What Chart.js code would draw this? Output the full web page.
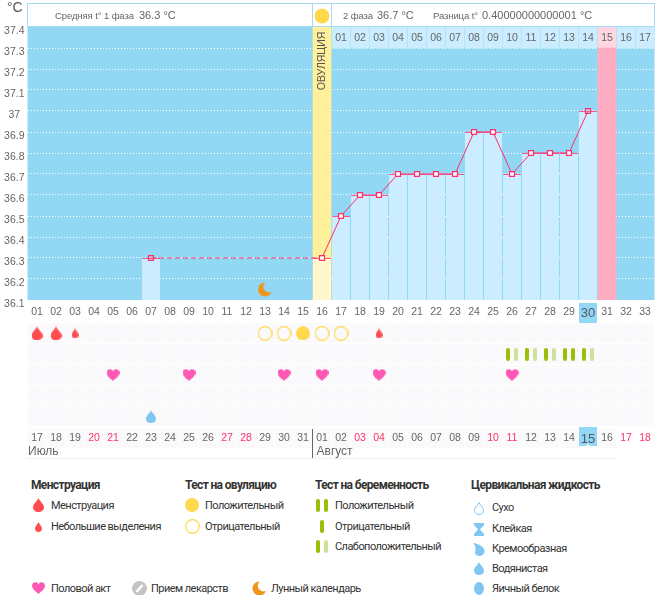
<!DOCTYPE html>
<html lang="ru"><head><meta charset="utf-8">
<style>
html,body{margin:0;padding:0;background:#fff;width:663px;height:595px;overflow:hidden}
body{position:relative;font-family:"Liberation Sans",sans-serif;color:#333}
canvas{position:absolute;left:0;display:block}
.t{position:absolute;white-space:nowrap;line-height:16px;transform:translateY(-8px)}
.h{font-size:9.5px;color:#666;letter-spacing:-.1px}.v{font-size:11px;color:#666}
.lh{font-family:Roboto,sans-serif;font-size:12px;font-weight:700;color:#333;letter-spacing:-.65px}
.li{font-family:Roboto,sans-serif;font-size:11px;color:#333;letter-spacing:-.55px;transform:translateY(-7px)}
</style></head><body>
<canvas id="top" width="663" height="323" style="top:0;width:663px;height:323px"></canvas>
<canvas id="low" width="663" height="140" style="top:323px;width:663px;height:140px"></canvas>
<div class="t" style="left:7px;top:7px;font-size:14px;color:#555">°C</div>
<div class="t h" style="left:55px;top:16px">Средняя t° 1 фаза</div><div class="t v" style="left:139px;top:15px">36.3 °C</div>
<div class="t h" style="left:343px;top:16px">2 фаза</div><div class="t v" style="left:377px;top:15px">36.7 °C</div>
<div class="t h" style="left:433px;top:16px">Разница t°</div><div class="t v" style="left:482px;top:15px">0.40000000000001 °C</div>

<div class="t lh" style="left:31px;top:485px">Менструация</div>
<div class="t li" style="left:51px;top:505px">Менструация</div>
<div class="t li" style="left:51px;top:526px">Небольшие выделения</div>
<div class="t lh" style="left:185px;top:485px">Тест на овуляцию</div>
<div class="t li" style="left:205px;top:505px">Положительный</div>
<div class="t li" style="left:205px;top:526px">Отрицательный</div>
<div class="t lh" style="left:315px;top:485px">Тест на беременность</div>
<div class="t li" style="left:335px;top:505px">Положительный</div>
<div class="t li" style="left:335px;top:526px">Отрицательный</div>
<div class="t li" style="left:335px;top:546px">Слабоположительный</div>
<div class="t lh" style="left:471px;top:485px">Цервикальная жидкость</div>
<div class="t li" style="left:492px;top:507px">Сухо</div>
<div class="t li" style="left:492px;top:528px">Клейкая</div>
<div class="t li" style="left:492px;top:548px">Кремообразная</div>
<div class="t li" style="left:492px;top:568px">Водянистая</div>
<div class="t li" style="left:492px;top:588px">Яичный белок</div>
<div class="t li" style="left:51px;top:588px">Половой акт</div>
<div class="t li" style="left:151px;top:588px">Прием лекарств</div>
<div class="t li" style="left:271px;top:588px">Лунный календарь</div>

<script src="https://cdn.jsdelivr.net/npm/chart.js@4"></script>
<script>
// ---------- data ----------
const cycleDays = ['01','02','03','04','05','06','07','08','09','10','11','12','13','14','15','16','17','18','19','20','21','22','23','24','25','26','27','28','29','30','31','32','33'];
const calendarDays = ['17','18','19','20','21','22','23','24','25','26','27','28','29','30','31','01','02','03','04','05','06','07','08','09','10','11','12','13','14','15','16','17','18'];
const weekendDays = [4,5,11,12,18,19,25,26,32,33];
const tempDays   = [7,16,17,18,19,20,21,22,23,24,25,26,27,28,29,30];
const tempValues = [36.3,36.3,36.5,36.6,36.6,36.7,36.7,36.7,36.7,36.9,36.9,36.7,36.8,36.8,36.8,37.0];
const hollowDays = [7,30];
const ovulationDay = 16;
const periodEndDay = 31;
const todayDay = 30;
const phaseLabels = ['01','02','03','04','05','06','07','08','09','10','11','12','13','14','15','16','17'];
const phaseStartDay = 17;
const moonDays = [13];
const moonValue = 36.15;
const flowHeavyDays = [1,2];
const flowSpotDays = [3,19];
const ovPosDays = [15];
const ovNegDays = [13,14,16,17];
const pregWeakDays = [26,27,28,30];
const pregPosDays = [29];
const sexDays = [5,9,14,16,19,26];
const wateryDays = [7];
const yMin = 36.1, yMax = 37.4, yStep = 0.1;

// ---------- colours ----------
const SKY='#92d8f5', CELL='#cbedff', PINK='#ffadc3', PINKL='#ffd6e2', YEL='#fff09b', YELL='#fff8cc',
      RED='#ff2d6b', DROP='#ff4d4f', GOLD='#ffd84d', GREEN='#99bf06', GREENL='#cfe09a', HEART='#ff58b4',
      BLUE='#7fc6f3', MOON='#f0951a', GREY='#c4c4c4';

// ---------- icons ----------
function icon(w,h,fn){const c=document.createElement('canvas');c.width=w;c.height=h;const x=c.getContext('2d');fn(x,w,h);return c;}
function dropPath(x,w,h){
  x.beginPath();x.moveTo(w/2,0);
  x.bezierCurveTo(w*0.62,h*0.25,w,h*0.42,w,h*0.66);
  x.bezierCurveTo(w,h*0.88,w*0.78,h,w/2,h);
  x.bezierCurveTo(w*0.22,h,0,h*0.88,0,h*0.66);
  x.bezierCurveTo(0,h*0.42,w*0.38,h*0.25,w/2,0);x.closePath();
}
const drop=(w,h,col)=>icon(w,h,(x)=>{dropPath(x,w,h);x.fillStyle=col;x.fill();});
const circle=(d)=>icon(d,d,(x)=>{x.beginPath();x.arc(d/2,d/2,d/2,0,7);x.fillStyle=GOLD;x.fill();});
const ring=(d)=>icon(d+1,d+1,(x)=>{x.beginPath();x.arc(d/2+.5,d/2+.5,d/2-.2,0,7);x.strokeStyle=GOLD;x.lineWidth=1.2;x.stroke();});
const heart=(w,h)=>icon(w,h,(x)=>{x.fillStyle=HEART;x.beginPath();x.moveTo(w/2,h);
  x.bezierCurveTo(w*0.3,h*0.8,0,h*0.6,0,h*0.3);x.bezierCurveTo(0,0,w*0.4,-h*0.08,w/2,h*0.2);
  x.bezierCurveTo(w*0.6,-h*0.08,w,0,w,h*0.3);x.bezierCurveTo(w,h*0.6,w*0.7,h*0.8,w/2,h);x.fill();});
const moon=(d)=>icon(d+1,d+1,(x)=>{x.fillStyle=MOON;x.beginPath();x.arc(d/2+.5,d/2+.5,d/2,0,7);x.fill();
  x.globalCompositeOperation='destination-out';x.beginPath();x.arc(d/2+.5+d*0.3,d/2+.5-d*0.2,d*0.42,0,7);x.fill();});
function pill(x,cx,h,col){x.fillStyle=col;x.beginPath();x.roundRect(cx-2,0,4,h,2);x.fill();}
const pills=(a,b)=>icon(12,13,(x,w,h)=>{pill(x,2,h,a);pill(x,10,h,b);});
const pillOne=()=>icon(4,13,(x,w,h)=>pill(x,2,h,GREEN));
const medIcon=()=>icon(15,15,(x)=>{x.fillStyle=GREY;x.beginPath();x.arc(7.5,7.5,7.5,0,7);x.fill();
  x.strokeStyle='#fff';x.lineWidth=2.5;x.beginPath();x.moveTo(4.5,11);x.lineTo(10.5,4);x.stroke();});
const dryIcon=()=>icon(10,13,(x)=>{x.translate(.5,.5);dropPath(x,9,12);x.strokeStyle=BLUE;x.lineWidth=1;x.stroke();});
const stickyIcon=()=>icon(10,13,(x)=>{x.fillStyle=BLUE;x.beginPath();x.moveTo(0,0);x.lineTo(10,0);x.lineTo(10,2);x.lineTo(6,6.5);x.lineTo(10,11);x.lineTo(10,13);x.lineTo(0,13);x.lineTo(0,11);x.lineTo(4,6.5);x.lineTo(0,2);x.fill();});
const creamIcon=()=>icon(12,13,(x)=>{x.fillStyle=BLUE;x.beginPath();x.moveTo(0,0);x.quadraticCurveTo(8,1,11,6);x.arc(6.5,8,5,-0.3,2.8);x.quadraticCurveTo(4,4,0,0);x.fill();});
const eggIcon=()=>icon(10,13,(x)=>{x.fillStyle=BLUE;x.beginPath();x.ellipse(5,6.5,5,6.5,0,0,7);x.fill();});

function place(c,cx,cy){c.style.left=Math.round(cx-c.width/2)+'px';c.style.top=Math.round(cy-c.height/2)+'px';c.style.position='absolute';document.body.appendChild(c);}
place(drop(11,14,DROP),38,505);place(drop(7,10,DROP),38,527);
place(circle(14),192,505);place(ring(14),192,526);
place(pills(GREEN,GREEN),322,505);place(pillOne(),322,526);place(pills(GREEN,GREENL),322,546);
place(dryIcon(),479,508);place(stickyIcon(),479,529);place(creamIcon(),479,549);place(drop(10,13,BLUE),479,568);place(eggIcon(),479,588);
place(heart(13,12),38,588);place(medIcon(),139,588);place(moon(14),259,588);

// ---------- helpers ----------
const N = cycleDays.length;
const series=(days,val)=>{const a=new Array(N).fill(null);days.forEach(d=>a[d-1]=val);return a;};
const tempSeries=new Array(N).fill(null);tempDays.forEach((d,i)=>tempSeries[d-1]=tempValues[i]);
const phaseStrip=new Array(N).fill(null);phaseLabels.forEach((_,i)=>phaseStrip[phaseStartDay-1+i]=[yMax-yStep,yMax]);
const FONT='"Liberation Sans",sans-serif';
const TICK=10.5;
const marks=(data,img)=>({type:'line',data,showLine:false,pointStyle:img,pointRadius:8,pointBorderWidth:0,order:0});

// ---------- plugins ----------
const topPlugin={id:'topDecor',
 beforeDraw(c){const {ctx,chartArea:a,scales:{x}}=c;ctx.save();
  ctx.fillStyle=SKY;ctx.fillRect(a.left,a.top,a.width,a.height);
  ctx.strokeStyle='#a6dcf3';ctx.lineWidth=1;ctx.strokeRect(27.5,3.5,a.width,23);
  const ox=x.getPixelForValue(ovulationDay-1);
  ctx.strokeRect(ox-9.5,3.5,19,23);
  const tx=x.getPixelForValue(todayDay-1);
  ctx.fillStyle=SKY;ctx.fillRect(tx-9,a.bottom+3,18,20);
  ctx.restore();},
 afterDatasetsDraw(c){const {ctx,scales:{x,y}}=c;ctx.save();
  const ox=x.getPixelForValue(ovulationDay-1);
  ctx.beginPath();ctx.arc(ox,16,7.5,0,7);ctx.fillStyle=GOLD;ctx.fill();
  ctx.textBaseline='middle';ctx.textAlign='center';ctx.fillStyle='#666';
  ctx.font=TICK+'px '+FONT;
  phaseLabels.forEach((t,i)=>{const cx=x.getPixelForValue(phaseStartDay-1+i);ctx.fillText(t,cx,y.getPixelForValue(yMax-yStep/2)+1);});
  ctx.translate(ox,61);ctx.rotate(-Math.PI/2);ctx.fillStyle='#555';ctx.font=TICK+'px '+FONT;ctx.fillText('ОВУЛЯЦИЯ',0,0);
  ctx.restore();}
};
const cellPattern=(()=>{const p=icon(4,4,(x)=>{x.fillStyle='#f9f8fb';x.fillRect(0,0,4,4);x.fillStyle='#fbfbfd';x.fillRect(0,0,2,2);x.fillRect(2,2,2,2);});
  return document.createElement('canvas').getContext('2d').createPattern(p,'repeat');})();
const lowPlugin={id:'lowDecor',
 beforeDraw(c){const {ctx,chartArea:a,scales:{x}}=c;ctx.save();
  ctx.fillStyle=cellPattern;
  for(let i=0;i<periodEndDay;i++){const cx=x.getPixelForValue(i);ctx.fillRect(cx-9,a.bottom+1,18,20);}
  const tx=x.getPixelForValue(todayDay-1);
  ctx.fillStyle=SKY;ctx.fillRect(tx-9,a.bottom,18,19);
  ctx.fillStyle='#fff';ctx.beginPath();ctx.moveTo(tx-2,a.bottom+19);ctx.lineTo(tx+2,a.bottom+19);ctx.lineTo(tx,a.bottom+17);ctx.fill();
  ctx.restore();},
 afterDraw(c){const {ctx,chartArea:a,scales:{x}}=c;ctx.save();
  const sep=Math.round(x.getPixelForValue(15)-9.5)-.5;
  ctx.strokeStyle='#eee';ctx.lineWidth=1;ctx.beginPath();ctx.moveTo(26,a.bottom+31.5);ctx.lineTo(x.getPixelForValue(periodEndDay-1)+9,a.bottom+31.5);ctx.stroke();
  ctx.strokeStyle='#666';ctx.beginPath();ctx.moveTo(sep,a.bottom+2);ctx.lineTo(sep,a.bottom+31);ctx.stroke();
  ctx.fillStyle='#666';ctx.font='12px '+FONT;ctx.textBaseline='middle';ctx.textAlign='left';
  ctx.fillText('Июль',28,a.bottom+25);ctx.fillText('Август',sep+4,a.bottom+25);
  ctx.restore();}
};

// ---------- temperature chart ----------
new Chart(document.getElementById('top'),{
 type:'bar',
 plugins:[topPlugin],
 data:{labels:cycleDays,datasets:[
  {type:'line',data:tempSeries,spanGaps:true,borderColor:RED,borderWidth:1,tension:0,pointStyle:'rect',pointRadius:3.5,pointBorderWidth:1.2,pointBorderColor:RED,
   pointBackgroundColor:(ctx)=>hollowDays.includes(ctx.dataIndex+1)?'rgba(255,255,255,0.1)':'#fff',
   segment:{borderDash:(ctx)=>(ctx.p0.skip||ctx.p1.skip)?[5,3]:undefined},order:0},
  {type:'line',data:series(moonDays,moonValue),showLine:false,pointStyle:moon(14),pointRadius:8,pointBorderWidth:0,order:1},
  {data:tempSeries,backgroundColor:(ctx)=>ctx.dataIndex===ovulationDay-1?YELL:CELL,borderColor:RED,borderWidth:{top:1,left:0,right:0,bottom:0},borderSkipped:false,order:2},
  {data:series([ovulationDay],[yMin,yMax]),backgroundColor:YEL,order:3},
  {data:series([periodEndDay],[yMin,yMax-yStep]),backgroundColor:PINK,order:3},
  {data:phaseStrip,backgroundColor:(ctx)=>ctx.dataIndex===periodEndDay-1?PINKL:CELL,order:4}
 ]},
 options:{responsive:false,animation:false,devicePixelRatio:1,events:[],
  layout:{autoPadding:false,padding:{top:27,right:8.5,left:0,bottom:0}},
  datasets:{bar:{grouped:false,barThickness:18}},
  plugins:{legend:{display:false},tooltip:{enabled:false}},
  scales:{
   x:{type:'category',offset:true,grid:{display:false,drawTicks:false},border:{display:false},
      afterFit:(s)=>{s.height=23;},
      ticks:{autoSkip:false,maxRotation:0,padding:6,color:(c)=>c.index===todayDay-1?'#556':'#666',
             font:(c)=>({family:FONT,size:c.index===todayDay-1?13:TICK})}},
   y:{min:yMin,max:yMax,border:{display:false,dash:[1,2]},
      afterFit:(s)=>{s.width=27.5;},
      grid:{color:(c)=>c.tick&&c.tick.value>=yMax-0.001?'transparent':'#fff',drawTicks:false,lineWidth:1},
      ticks:{stepSize:yStep,padding:3,crossAlign:'center',labelOffset:4,color:'#666',font:{family:FONT,size:TICK},
             callback:(v)=>String(+(+v).toFixed(1))}}
  }}
});

// ---------- symptom grid ----------
const rows=[0,1,2,3,4];
const ROW_FLOW=0.5,ROW_PREG=1.5,ROW_SEX=2.5,ROW_FLUID=4.5;
new Chart(document.getElementById('low'),{
 type:'bar',
 plugins:[lowPlugin],
 data:{labels:calendarDays,datasets:[
  marks(series(flowHeavyDays,ROW_FLOW),drop(11,14,DROP)),
  marks(series(flowSpotDays,ROW_FLOW),drop(7,10,DROP)),
  marks(series(ovPosDays,ROW_FLOW),circle(14)),
  marks(series(ovNegDays,ROW_FLOW),ring(14)),
  marks(series(pregWeakDays,ROW_PREG),pills(GREEN,GREENL)),
  marks(series(pregPosDays,ROW_PREG),pills(GREEN,GREEN)),
  marks(series(sexDays,ROW_SEX),heart(13,12)),
  marks(series(wateryDays,ROW_FLUID),drop(10,13,BLUE)),
  ...rows.map(r=>({data:new Array(N).fill([r+0.03,r+0.95]),backgroundColor:cellPattern,order:5}))
 ]},
 options:{responsive:false,animation:false,devicePixelRatio:1,events:[],
  layout:{autoPadding:false,padding:{top:0,right:8.5,left:27.5,bottom:0}},
  datasets:{bar:{grouped:false,barThickness:18}},
  plugins:{legend:{display:false},tooltip:{enabled:false}},
  scales:{
   x:{type:'category',offset:true,grid:{display:false,drawTicks:false},border:{display:false},
      afterFit:(s)=>{s.height=36;},
      ticks:{autoSkip:false,maxRotation:0,padding:5,
             color:(c)=>weekendDays.includes(c.index+1)?'#ff3366':(c.index===todayDay-1?'#556':'#666'),
             font:(c)=>({family:FONT,size:c.index===todayDay-1?13:TICK})}},
   y:{display:false,min:0,max:5,reverse:true}
  }}
});
</script></body></html>
